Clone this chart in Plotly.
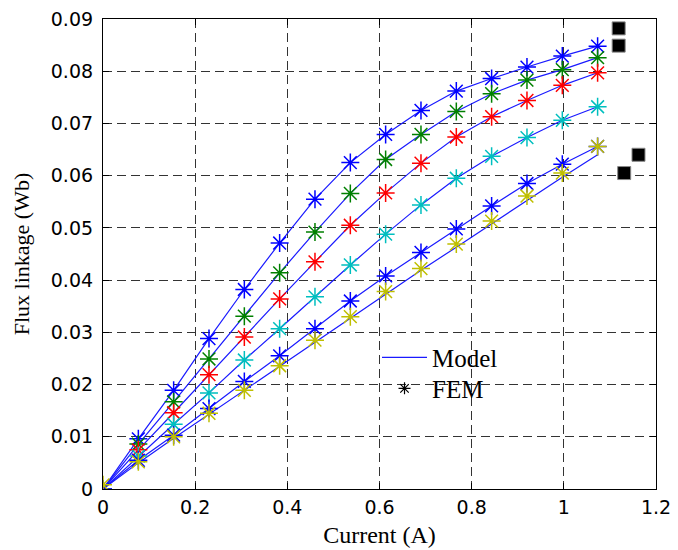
import plotly.graph_objects as go

# Current (A)
current = [0, 0.0767, 0.1533, 0.23, 0.3067, 0.3833, 0.46, 0.5367, 0.6133,
           0.69, 0.7667, 0.8433, 0.92, 0.9967, 1.0733]

# FEM flux linkage (Wb), one list per rotor position
fem_1 = [0, 0.0096, 0.0189, 0.0288, 0.0382, 0.0471, 0.0555, 0.0625, 0.0679,
         0.0725, 0.0762, 0.0786, 0.0808, 0.0829, 0.0848]
fem_2 = [0, 0.0086, 0.0167, 0.0249, 0.0331, 0.0414, 0.0492, 0.0566, 0.0631,
         0.0679, 0.0723, 0.0757, 0.0783, 0.0803, 0.0826]
fem_3 = [0, 0.0075, 0.0146, 0.0219, 0.0291, 0.0364, 0.0435, 0.0505, 0.0567,
         0.0624, 0.0674, 0.0713, 0.0744, 0.0773, 0.0797]
fem_4 = [0, 0.0063, 0.0124, 0.0184, 0.0247, 0.0307, 0.0368, 0.0429, 0.0488,
         0.0544, 0.0595, 0.0637, 0.0673, 0.0706, 0.0732]
fem_5 = [0, 0.0055, 0.0103, 0.0154, 0.0206, 0.0255, 0.0307, 0.0360, 0.0408,
         0.0453, 0.0498, 0.0542, 0.0585, 0.0622, 0.0656]
fem_6 = [0.0008, 0.0052, 0.0100, 0.0145, 0.0189, 0.0236, 0.0285, 0.0330, 0.0378,
         0.0422, 0.0469, 0.0513, 0.0561, 0.0605, 0.0656]

# Model flux linkage (Wb)
model_1 = fem_1
model_2 = fem_2
model_3 = fem_3
model_4 = fem_4
model_5 = fem_5
model_6 = [0, 0.0050, 0.0097, 0.0143, 0.0188, 0.0234, 0.0281, 0.0327, 0.0373,
           0.0419, 0.0463, 0.0508, 0.0553, 0.0597, 0.0640]

fem_series = [fem_1, fem_2, fem_3, fem_4, fem_5, fem_6]
model_series = [model_1, model_2, model_3, model_4, model_5, model_6]
fem_colors = ["#0000ff", "#008000", "#ff0000", "#00bfbf", "#0000ff", "#bfbf00"]

# stray black square marks at the right edge
sq_x = [1.119, 1.119, 1.162, 1.131]
sq_y = [0.0882, 0.0849, 0.0640, 0.0605]

x_ticks = [0, 0.2, 0.4, 0.6, 0.8, 1, 1.2]
x_tick_text = ["0", "0.2", "0.4", "0.6", "0.8", "1", "1.2"]
y_ticks = [0, 0.01, 0.02, 0.03, 0.04, 0.05, 0.06, 0.07, 0.08, 0.09]
y_tick_text = ["0", "0.01", "0.02", "0.03", "0.04", "0.05", "0.06", "0.07", "0.08", "0.09"]

fig = go.Figure()

for ys in model_series:
    fig.add_trace(go.Scatter(x=current, y=ys, mode="lines",
                             line=dict(color="#1a1aff", width=1.2),
                             showlegend=False, hoverinfo="skip"))

for ys, c in zip(fem_series, fem_colors):
    fig.add_trace(go.Scatter(x=current, y=ys, mode="markers",
                             marker=dict(symbol="asterisk-open", size=15, color=c,
                                         line=dict(color=c, width=1.5)),
                             showlegend=False))

fig.add_trace(go.Scatter(x=sq_x, y=sq_y, mode="markers",
                         marker=dict(symbol="square", size=13, color="black",
                                     line=dict(color="#888", width=1)),
                         showlegend=False, hoverinfo="skip"))

# legend entries
fig.add_trace(go.Scatter(x=[None], y=[None], mode="lines", name="Model",
                         line=dict(color="#1a1aff", width=1.2), legend="legend"))
fig.add_trace(go.Scatter(x=[None], y=[None], mode="markers", name="FEM",
                         marker=dict(symbol="asterisk-open", size=10, color="black",
                                     line=dict(color="black", width=1.2)),
                         legend="legend2"))

axis_common = dict(
    showline=True, linecolor="black", linewidth=1.2, mirror="ticks",
    ticks="inside", ticklen=6, tickcolor="black", tickwidth=1,
    showgrid=True, gridcolor="#333333", gridwidth=1.3, griddash="9px,5px",
    zeroline=False, ticklabeloverflow="allow",
    tickfont=dict(family="DejaVu Sans", size=19, color="black"),
)

fig.update_xaxes(range=[0, 1.2], tickvals=x_ticks, ticktext=x_tick_text,
                 title=dict(text="Current (A)", standoff=9,
                            font=dict(family="Liberation Serif", size=24, color="black")),
                 ticklabelstandoff=1, **axis_common)
fig.update_yaxes(range=[0, 0.09], tickvals=y_ticks, ticktext=y_tick_text,
                 title=dict(text="Flux linkage (Wb)", standoff=15,
                            font=dict(family="Liberation Serif", size=22, color="black")),
                 ticklabelstandoff=5, **axis_common)

legend_font = dict(family="Liberation Serif", size=25, color="black")
fig.update_layout(
    width=670, height=542,
    margin=dict(l=95, r=22, t=11, b=61, autoexpand=False),
    plot_bgcolor="white", paper_bgcolor="white",
    legend=dict(x=0.4955, y=0.3285, xanchor="left", yanchor="top",
                bgcolor="rgba(0,0,0,0)", borderwidth=0,
                font=legend_font, itemwidth=45),
    legend2=dict(x=0.4955, y=0.2626, xanchor="left", yanchor="top",
                 bgcolor="rgba(0,0,0,0)", borderwidth=0,
                 font=legend_font, itemwidth=45),
)

fig.write_html("out.html")
